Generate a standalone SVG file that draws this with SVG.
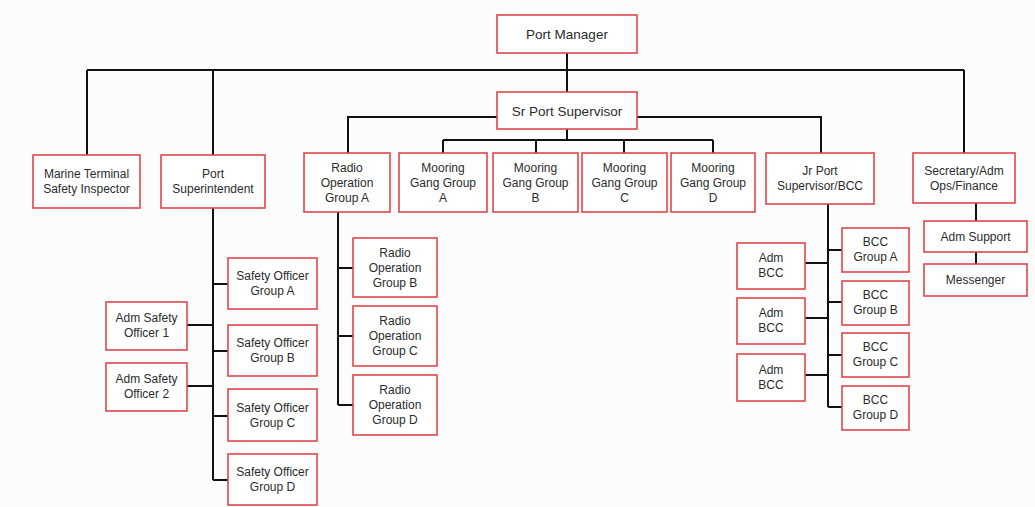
<svg xmlns="http://www.w3.org/2000/svg" width="1035" height="507" viewBox="0 0 1035 507">
<style>
.n rect{fill:#ffffff;stroke:#e0454a;stroke-width:1.6}
.n text{font-family:"Liberation Sans",Arial,sans-serif;font-size:12px;fill:#2b2b2b;text-anchor:middle}
.n text.big{font-size:13.5px}
#connectors path{fill:none;stroke:#111;stroke-width:2}
</style>
<rect x="0" y="0" width="1035" height="507" fill="#fcfcfc"/>
<g id="connectors">
<path d="M567 53V92M87 70H964M87 70V155M213 70V155M964 70V153"/>
<path d="M497 117H348V153M637 117H821V153"/>
<path d="M567 129V140M443 140H713M443 140V153M536 140V153M624 140V153M713 140V153"/>
<path d="M213 208V480M213 284H228M213 351H228M213 416H228M213 480H228M187 325H213M187 386H213"/>
<path d="M338 212V405M338 268H353M338 336H353M338 405H353"/>
<path d="M828 204V407M828 250H842M828 302H842M828 355H842M828 407H842M805 263H828M805 318H828M805 375H828"/>
<path d="M976 203V221M976 252V264"/>
</g>
<g id="port-manager" class="n"><rect x="497" y="15" width="140" height="38"/><text class="big" x="567" y="39">Port Manager</text></g>
<g id="sr-port-supervisor" class="n"><rect x="497" y="92" width="140" height="37"/><text class="big" x="567" y="115.5">Sr Port Supervisor</text></g>
<g id="marine-terminal" class="n"><rect x="33" y="155" width="107" height="53"/><text x="86.5" y="178.3">Marine Terminal</text><text x="86.5" y="193.3">Safety Inspector</text></g>
<g id="port-superintendent" class="n"><rect x="161" y="155" width="104" height="53"/><text x="213" y="178.3">Port</text><text x="213" y="193.3">Superintendent</text></g>
<g id="radio-a" class="n"><rect x="304" y="153" width="86" height="59"/><text x="347" y="171.8">Radio</text><text x="347" y="186.8">Operation</text><text x="347" y="201.8">Group A</text></g>
<g id="mooring-a" class="n"><rect x="399" y="153" width="88" height="59"/><text x="443" y="171.8">Mooring</text><text x="443" y="186.8">Gang Group</text><text x="443" y="201.8">A</text></g>
<g id="mooring-b" class="n"><rect x="493" y="153" width="85" height="59"/><text x="535.5" y="171.8">Mooring</text><text x="535.5" y="186.8">Gang Group</text><text x="535.5" y="201.8">B</text></g>
<g id="mooring-c" class="n"><rect x="582" y="153" width="85" height="59"/><text x="624.5" y="171.8">Mooring</text><text x="624.5" y="186.8">Gang Group</text><text x="624.5" y="201.8">C</text></g>
<g id="mooring-d" class="n"><rect x="671" y="153" width="84" height="59"/><text x="713" y="171.8">Mooring</text><text x="713" y="186.8">Gang Group</text><text x="713" y="201.8">D</text></g>
<g id="jr-port-supervisor" class="n"><rect x="766" y="153" width="108" height="51"/><text x="820" y="175.3">Jr Port</text><text x="820" y="190.3">Supervisor/BCC</text></g>
<g id="secretary" class="n"><rect x="913" y="153" width="102" height="50"/><text x="964" y="174.8">Secretary/Adm</text><text x="964" y="189.8">Ops/Finance</text></g>
<g id="safety-a" class="n"><rect x="228" y="258" width="89" height="51"/><text x="272.5" y="280">Safety Officer</text><text x="272.5" y="295">Group A</text></g>
<g id="safety-b" class="n"><rect x="228" y="325" width="89" height="51"/><text x="272.5" y="347">Safety Officer</text><text x="272.5" y="362">Group B</text></g>
<g id="safety-c" class="n"><rect x="228" y="389" width="89" height="52"/><text x="272.5" y="411.5">Safety Officer</text><text x="272.5" y="426.5">Group C</text></g>
<g id="safety-d" class="n"><rect x="228" y="454" width="89" height="51"/><text x="272.5" y="476">Safety Officer</text><text x="272.5" y="491">Group D</text></g>
<g id="adm-safety-1" class="n"><rect x="106" y="302" width="81" height="48"/><text x="146.5" y="322.3">Adm Safety</text><text x="146.5" y="337.3">Officer 1</text></g>
<g id="adm-safety-2" class="n"><rect x="106" y="363" width="81" height="48"/><text x="146.5" y="383.3">Adm Safety</text><text x="146.5" y="398.3">Officer 2</text></g>
<g id="radio-b" class="n"><rect x="353" y="238" width="84" height="59"/><text x="395" y="256.8">Radio</text><text x="395" y="271.8">Operation</text><text x="395" y="286.8">Group B</text></g>
<g id="radio-c" class="n"><rect x="353" y="306" width="84" height="60"/><text x="395" y="325.3">Radio</text><text x="395" y="340.3">Operation</text><text x="395" y="355.3">Group C</text></g>
<g id="radio-d" class="n"><rect x="353" y="375" width="84" height="60"/><text x="395" y="394.3">Radio</text><text x="395" y="409.3">Operation</text><text x="395" y="424.3">Group D</text></g>
<g id="bcc-a" class="n"><rect x="842" y="228" width="67" height="44"/><text x="875.5" y="246.3">BCC</text><text x="875.5" y="261.3">Group A</text></g>
<g id="bcc-b" class="n"><rect x="842" y="281" width="67" height="44"/><text x="875.5" y="299.3">BCC</text><text x="875.5" y="314.3">Group B</text></g>
<g id="bcc-c" class="n"><rect x="842" y="333" width="67" height="44"/><text x="875.5" y="351.3">BCC</text><text x="875.5" y="366.3">Group C</text></g>
<g id="bcc-d" class="n"><rect x="842" y="386" width="67" height="44"/><text x="875.5" y="404.3">BCC</text><text x="875.5" y="419.3">Group D</text></g>
<g id="adm-bcc-1" class="n"><rect x="737" y="243" width="68" height="46"/><text x="771" y="262.3">Adm</text><text x="771" y="277.3">BCC</text></g>
<g id="adm-bcc-2" class="n"><rect x="737" y="298" width="68" height="46"/><text x="771" y="317.3">Adm</text><text x="771" y="332.3">BCC</text></g>
<g id="adm-bcc-3" class="n"><rect x="737" y="354" width="68" height="47"/><text x="771" y="373.8">Adm</text><text x="771" y="388.8">BCC</text></g>
<g id="adm-support" class="n"><rect x="924" y="221" width="103" height="31"/><text x="975.5" y="240.8">Adm Support</text></g>
<g id="messenger" class="n"><rect x="924" y="264" width="103" height="32"/><text x="975.5" y="284.3">Messenger</text></g>
</svg>
